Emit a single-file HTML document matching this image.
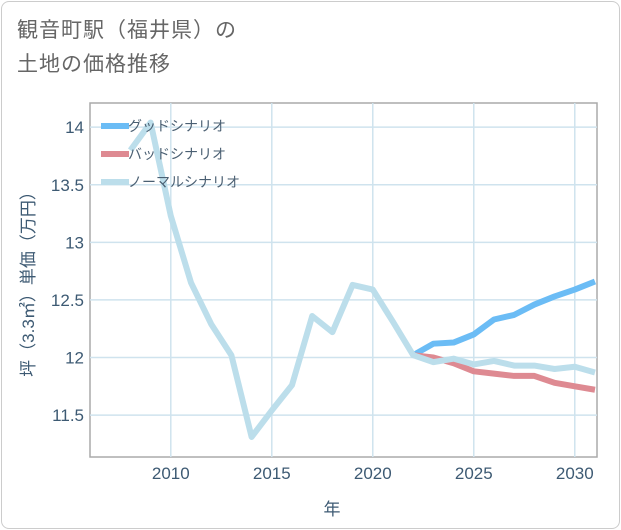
<!DOCTYPE html>
<html><head><meta charset="utf-8"><style>
body{margin:0;background:#fff;font-family:"Liberation Sans","Noto Sans CJK JP",sans-serif;}
#card{position:absolute;left:1px;top:1px;width:617px;height:526px;border:1px solid #ccc;border-radius:8px;background:#fff;}
#title{position:absolute;left:17px;top:14px;font-size:21px;line-height:34px;color:#666;letter-spacing:1px}
</style></head><body>
<div id="card"></div>
<div id="title">観音町駅（福井県）の<br>土地の価格推移</div>
<svg id="chart" width="621" height="530" style="position:absolute;left:0;top:0"></svg>
<script>
const years=[2008,2009,2010,2011,2012,2013,2014,2015,2016,2017,2018,2019,2020,2021,2022,2023,2024,2025,2026,2027,2028,2029,2030,2031];
const normal=[13.80,14.04,13.23,12.65,12.29,12.02,11.31,11.54,11.76,12.36,12.22,12.63,12.59,12.31,12.02,11.96,11.99,11.94,11.97,11.93,11.93,11.90,11.92,11.87];
const futureYears=[2022,2023,2024,2025,2026,2027,2028,2029,2030,2031];
const good=[12.02,12.12,12.13,12.20,12.33,12.37,12.46,12.53,12.59,12.66];
const bad=[12.02,12.00,11.95,11.88,11.86,11.84,11.84,11.78,11.75,11.72];
const xTicks=[2010,2015,2020,2025,2030];
const yTicks=[11.5,12,12.5,13,13.5,14];
const yLabels=["11.5","12","12.5","13","13.5","14"];
const L=90,R=597,T=103,B=457,x0=2006,x1=2031.1,y0=11.136,y1=14.21;
const X=v=>L+(v-x0)/(x1-x0)*(R-L);
const Y=v=>B-(v-y0)/(y1-y0)*(B-T);
const svg=document.getElementById('chart');
const NS='http://www.w3.org/2000/svg';
function mk(t,a,p){const e=document.createElementNS(NS,t);for(const k in a)e.setAttribute(k,a[k]);(p||svg).appendChild(e);return e;}
const frame=mk('rect',{x:L,y:T,width:R-L,height:B-T,fill:'none',stroke:'#aaa','stroke-width':1.5});


xTicks.forEach(v=>{
 const g=mk('line',{x1:X(v),x2:X(v),y1:T,y2:B,stroke:'#cfe3ee','stroke-width':1.5});
 
 
 const t=mk('text',{x:X(v),y:B+22,'text-anchor':'middle','font-size':17,fill:'#3d5a73'});
 t.textContent=v;
 
 
});
yTicks.forEach((v,i)=>{
 const g=mk('line',{x1:L,x2:R,y1:Y(v),y2:Y(v),stroke:'#cfe3ee','stroke-width':1.5});
 
 
 const t=mk('text',{x:L-6,y:Y(v)+6,'text-anchor':'end','font-size':17,fill:'#3d5a73'});
 t.textContent=yLabels[i];
 
 
});
const xt=mk('text',{x:332,y:515,'text-anchor':'middle','font-size':17,fill:'#3d5a73'});
xt.textContent='年';


const yt=mk('text',{x:0,y:0,'text-anchor':'middle','font-size':17,fill:'#3d5a73',transform:`translate(34,${(T+B)/2}) rotate(-90)`});
yt.textContent='坪（3.3㎡）単価（万円）';


function line(xs,vs,color,name){
 const p=mk('polyline',{points:xs.map((x,i)=>X(x)+','+Y(vs[i])).join(' '),fill:'none',stroke:color,'stroke-width':6,'stroke-linejoin':'round'});
 
 
}
line(futureYears,good,'#6bbcf5','good-scenario-line');
line(futureYears,bad,'#de8a92','bad-scenario-line');
line(years,normal,'#bcdeeb','normal-scenario-line');
const legend=[['グッドシナリオ','#6bbcf5'],['バッドシナリオ','#de8a92'],['ノーマルシナリオ','#bcdeeb']];
legend.forEach((d,i)=>{
 const y=126+i*28;
 const s=mk('line',{x1:101,x2:129,y1:y,y2:y,stroke:d[1],'stroke-width':6});
 
 
 const t=mk('text',{x:128,y:y+5,'font-size':14,fill:'#4a5f72'});
 t.textContent=d[0];
 
 
});
</script>
</body></html>
